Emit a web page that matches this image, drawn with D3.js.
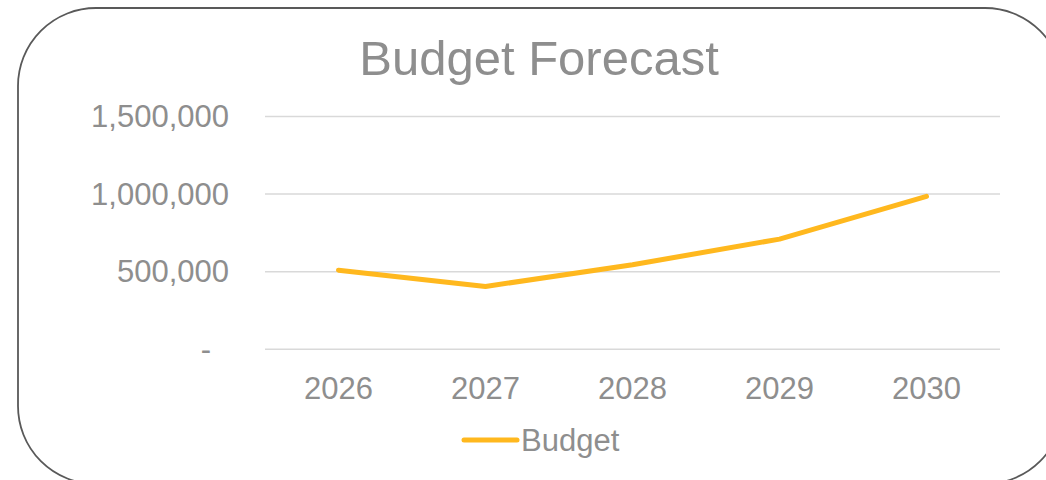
<!DOCTYPE html>
<html><head><meta charset="utf-8">
<script src="https://cdn.jsdelivr.net/npm/d3@7"></script>
<style>html,body{margin:0;padding:0;background:#fff;}svg{display:block;font-family:"Liberation Sans",Arial,sans-serif;}</style>
</head><body>
<svg id="chart" width="1046" height="480"></svg>
<script>
const categories = ["2026","2027","2028","2029","2030"];
const budget = [510000, 405000, 545000, 710000, 985000];
const yTicks = [0, 500000, 1000000, 1500000];
const seriesName = "Budget";
const titleText = "Budget Forecast";

const svg = d3.select("#chart");
const textColor = "#8e8e8e";
const lineColor = "#FFB81E";

svg.append("rect").attr("x",18).attr("y",8).attr("width",1045).attr("height",476)
  .attr("rx",78).attr("ry",78).attr("fill","#fff").attr("stroke","#595959").attr("stroke-width",1.8);

const x = d3.scaleBand().domain(categories).range([265,1000]);
const y = d3.scaleLinear().domain([0,1500000]).range([349.3,116.5]);

// gridlines
svg.append("g").selectAll("line").data(yTicks).join("line")
  .attr("x1",265).attr("x2",1000).attr("y1",d=>y(d)).attr("y2",d=>y(d))
  .attr("stroke","#d9d9d9").attr("stroke-width",1.5);

// y axis
const fmt = d3.format(",");
const yAxis = svg.append("g").attr("transform","translate(229,0)")
  .call(d3.axisLeft(y).tickValues(yTicks).tickSize(0).tickPadding(0).tickFormat(d=> d===0 ? "-" : fmt(d)));
yAxis.select(".domain").remove();
yAxis.selectAll("text").attr("fill",textColor).style("font-size","31px")
  .style("font-family","'Liberation Sans',Arial,sans-serif")
  .attr("dx", d => d===0 ? -18 : 0);

// x axis
const xAxis = svg.append("g").attr("transform","translate(0,349)")
  .call(d3.axisBottom(x).tickSize(0).tickPadding(0));
xAxis.select(".domain").remove();
xAxis.selectAll("text").attr("fill",textColor).style("font-size","31px")
  .style("font-family","'Liberation Sans',Arial,sans-serif")
  .attr("y",50).attr("dy",0);

// line
const line = d3.line().x((d,i)=>x(categories[i])+x.bandwidth()/2).y(d=>y(d));
svg.append("path").datum(budget).attr("d",line).attr("fill","none")
  .attr("stroke",lineColor).attr("stroke-width",5).attr("stroke-linecap","round").attr("stroke-linejoin","round");

// title
svg.append("text").attr("x",539).attr("y",75).attr("text-anchor","middle")
  .attr("fill",textColor).style("font-size","49px").text(titleText);

// legend
svg.append("line").attr("x1",464).attr("x2",517).attr("y1",440).attr("y2",440)
  .attr("stroke",lineColor).attr("stroke-width",5).attr("stroke-linecap","round");
svg.append("text").attr("x",521).attr("y",451).attr("fill",textColor).style("font-size","31px").text(seriesName);
</script>
</body></html>
